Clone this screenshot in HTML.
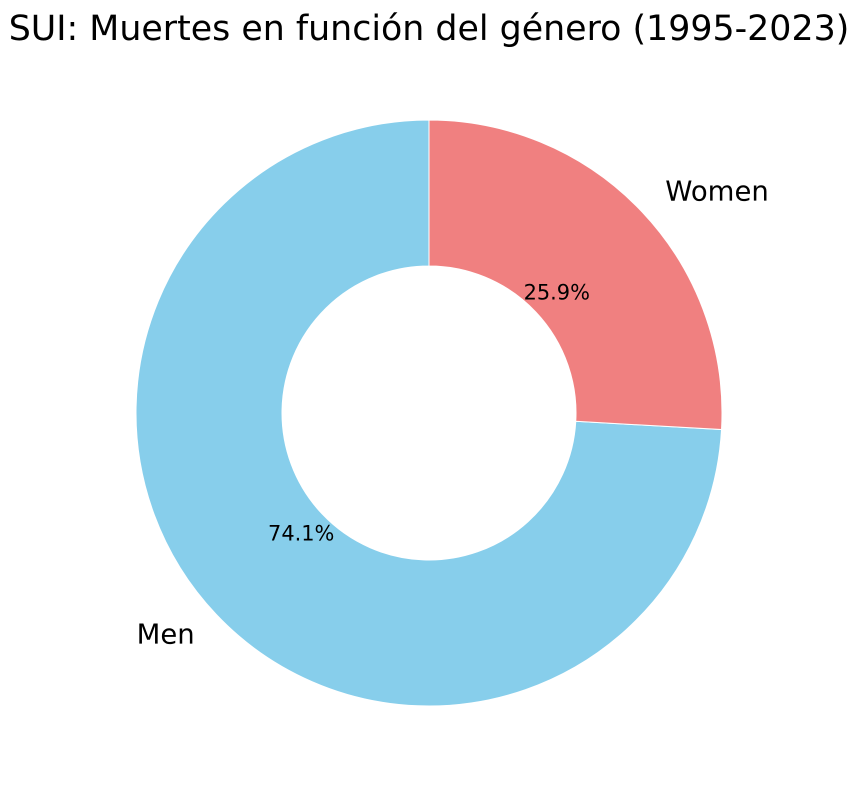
<!DOCTYPE html>
<html><head><meta charset="utf-8"><style>
html,body{margin:0;padding:0;background:#fff;}
svg{display:block;font-family:"DejaVu Sans","Liberation Sans",sans-serif;}
</style></head><body>
<svg id="chart" width="859" height="790" viewBox="0 0 859 790">
<text x="429" y="40" text-anchor="middle" font-size="34.8" fill="#000">SUI: Muertes en función del género (1995-2023)</text>
<g id="slices"></g>
<g id="labels"></g>
</svg>
<script>
const categories = ["Men", "Women"];
const values = [74.1, 25.9];
const colors = ["#87ceeb", "#f08080"];
const cx = 429, cy = 413, R = 293, r = 147;
const NS = "http://www.w3.org/2000/svg";
const slices = document.getElementById('slices');
const labels = document.getElementById('labels');
const total = values.reduce((a, b) => a + b, 0);
let start = 90;
function pt(rad, deg) { const a = deg * Math.PI / 180; return [cx + rad * Math.cos(a), cy - rad * Math.sin(a)]; }
values.forEach((v, i) => {
  const sweep = v / total * 360;
  const end = start + sweep;
  const large = sweep > 180 ? 1 : 0;
  const [x1, y1] = pt(R, start), [x2, y2] = pt(R, end), [x3, y3] = pt(r, end), [x4, y4] = pt(r, start);
  const p = document.createElementNS(NS, 'path');
  p.setAttribute('d', `M${x1},${y1} A${R},${R} 0 ${large} 0 ${x2},${y2} L${x3},${y3} A${r},${r} 0 ${large} 1 ${x4},${y4} Z`);
  p.setAttribute('fill', colors[i]);
  p.setAttribute('stroke', '#fff');
  p.setAttribute('stroke-width', '1');
  
  
  slices.appendChild(p);
  const mid = start + sweep / 2;
  const [lx, ly] = pt(R * 1.1, mid);
  const t = document.createElementNS(NS, 'text');
  t.setAttribute('x', lx + (Math.cos(mid * Math.PI / 180) < 0 ? 0 : 2)); t.setAttribute('y', ly + 9);
  t.setAttribute('font-size', '27.5');
  t.setAttribute('text-anchor', Math.cos(mid * Math.PI / 180) < 0 ? 'end' : 'start');
  t.textContent = categories[i];
  
  
  labels.appendChild(t);
  const [px, py] = pt(R * 0.6, mid);
  const q = document.createElementNS(NS, 'text');
  q.setAttribute('x', px); q.setAttribute('y', py + 7);
  q.setAttribute('font-size', '20.9');
  q.setAttribute('text-anchor', 'middle');
  q.textContent = (v / total * 100).toFixed(1) + '%';
  
  
  labels.appendChild(q);
  start = end;
});
</script>
</body></html>
